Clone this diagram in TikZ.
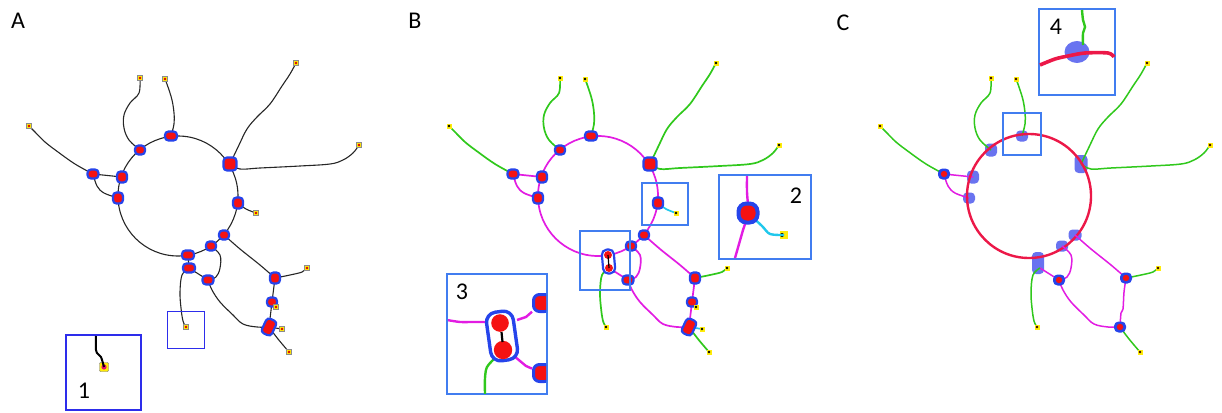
\documentclass[tikz,border=0pt]{standalone}
\usepackage{fontspec}
\setmainfont{Carlito}
\usetikzlibrary{shapes.geometric}
\definecolor{nblue}{RGB}{38,68,235}
\definecolor{nred}{RGB}{245,18,18}
\definecolor{mag}{RGB}{226,28,226}
\definecolor{grn}{RGB}{48,200,28}
\definecolor{cyn}{RGB}{32,200,236}
\definecolor{crim}{RGB}{236,24,72}
\definecolor{boxA}{RGB}{45,45,235}
\definecolor{boxB}{RGB}{65,125,240}
\definecolor{cblob}{RGB}{105,115,240}
\definecolor{endy}{RGB}{255,236,10}
\definecolor{pinkred}{RGB}{232,20,110}
\tikzset{
 lbl/.style={font=\fontsize{24}{28}\selectfont, inner sep=0pt},
 blob/.style={rectangle, rounded corners=3.5pt, draw=nblue, fill=nred, line width=2.2pt,
   minimum width=10pt, minimum height=9pt, inner sep=0pt},
 endpt/.style={rectangle, fill=endy, minimum size=5pt, inner sep=0pt,
   path picture={\fill[#1] (path picture bounding box.center) circle[radius=1.3pt];}},
 endpt/.default=black,
 edgeA/.style={draw=black!85, line width=1.1pt},
 edgeG/.style={draw=grn, line width=1.7pt},
 edgeM/.style={draw=mag, line width=1.7pt},
 edgeC/.style={draw=cyn, line width=1.7pt},
 cbl/.style={rectangle, rounded corners=4pt, fill=cblob, minimum width=12pt, minimum height=11pt, inner sep=0pt},
 coff/.style={rectangle, rounded corners=4.5pt, fill=nblue, minimum width=12pt, minimum height=11pt, inner sep=0pt,
   path picture={\fill[nred] (path picture bounding box.center) circle[radius=3.2pt];}},
 insetA/.style={draw=boxA, line width=1.8pt},
 insetB/.style={draw=boxB, line width=1.8pt},
 smallA/.style={draw=boxA, line width=1pt},
 smallB/.style={draw=boxB, line width=1.3pt},
}
\newcommand\graphpts{%
\coordinate (ctr) at (178,196);
\coordinate (n1) at (171,136);
\coordinate (n2) at (140,150);
\coordinate (n3) at (122,177);
\coordinate (n4) at (93,174);
\coordinate (n5) at (118,198);
\coordinate (n6) at (230,164);
\coordinate (n7) at (238,203);
\coordinate (n8) at (224,235);
\coordinate (n9) at (211,246);
\coordinate (n10) at (188,255);
\coordinate (n11) at (189,268);
\coordinate (n12) at (208,280);
\coordinate (n13) at (275,278);
\coordinate (n14) at (272,302);
\coordinate (n15) at (269,327);
\coordinate (e1) at (140,78);
\coordinate (e2) at (165,79);
\coordinate (e3) at (296,63);
\coordinate (e4) at (29,126);
\coordinate (e5) at (359,145);
\coordinate (e6) at (256,213);
\coordinate (e7) at (307,268);
\coordinate (e8) at (276,307);
\coordinate (e9) at (282,329);
\coordinate (e10) at (289,352);
\coordinate (e11) at (186,327);
}
\newcommand\sharededges{%
\draw[termE] plot[smooth,tension=.6] coordinates {(e1) (139,93) (130,103) (124,115) (124,128) (129,140) (n2)};
\draw[termE] plot[smooth,tension=.6] coordinates {(e2) (168,87) (172,100) (174,113) (174,124) (n1)};
\draw[termE] plot[smooth,tension=.6] coordinates {(e3) (290,74) (282,86) (270,104) (257,117) (247,129) (239,145) (n6)};
\draw[termE] plot[smooth,tension=.6] coordinates {(e5) (353,153) (343,160) (330,164) (300,166) (260,168) (240,169) (n6)};
\draw[termE] plot[smooth,tension=.6] coordinates {(e4) (35,132) (45,142) (58,152) (75,164) (n4)};
\draw[intE] (n4) -- (n3);
\draw[intE] plot[smooth,tension=.6] coordinates {(n4) (97,186) (104,193) (n5)};
\draw[cycE] (ctr) circle[radius=\cycr];
\draw[intE] plot[smooth,tension=.5] coordinates {(n8) (240,249) (260,265) (n13)};
\draw[intE] plot[smooth,tension=.6] coordinates {(n9) (220,255) (220,268) (216,277) (n12)};
\draw[intE] (n11) -- (n12);
\draw[termE] plot[smooth,tension=.6] coordinates {(n11) (182,275) (180,292) (181,308) (183,321) (e11)};
\draw[intE] plot[smooth,tension=.6] coordinates {(n12) (212,290) (220,302) (233,315) (243,324) (257,327) (n15)};
\draw[termE] plot[smooth,tension=.6] coordinates {(n13) (290,275) (302,272) (e7)};
\draw[termE] plot[smooth,tension=.6] coordinates {(n15) (278,339) (e10)};
}
\newcommand\cycr{60pt}
\begin{document}
\begin{tikzpicture}[x=1pt,y=-1pt]
\useasboundingbox (0,0) rectangle (1222,412);

% ---------------- Panel A ----------------
\node[lbl] (labA) at (18,21) {A};
\begin{scope}[name prefix=A-, termE/.style={edgeA}, intE/.style={edgeA}, cycE/.style={edgeA}]
\graphpts
\sharededges
\draw[edgeA] plot[smooth,tension=.6] coordinates {(n7) (246,209) (e6)};
\draw[edgeA] (n13) -- (n14) -- (n15);
\draw[edgeA] (n14) -- (e8);
\draw[edgeA] (n15) -- (e9);
\draw[edgeA] (n10) -- (n11);
\node[blob, minimum width=12pt] (b1) at (n1) {};
\node[blob] (b2) at (n2) {};
\node[blob, minimum height=11pt] (b3) at (n3) {};
\node[blob, minimum width=11pt] (b4) at (n4) {};
\node[blob, minimum height=11pt] (b5) at (n5) {};
\node[blob, minimum width=13pt, minimum height=13pt] (b6) at (n6) {};
\node[blob, minimum height=11pt] (b7) at (n7) {};
\node[blob] (b8) at (n8) {};
\node[blob] (b9) at (n9) {};
\node[blob, minimum width=12pt] (b10) at (n10) {};
\node[blob, minimum width=12pt] (b11) at (n11) {};
\node[blob, minimum width=11pt] (b12) at (n12) {};
\node[blob, minimum height=11pt] (b13) at (n13) {};
\node[blob] (b14) at (n14) {};
\node[blob, minimum width=11pt, minimum height=16pt, rotate=-25] (b15) at (n15) {};
\foreach \e in {1,...,11} {\node[endpt=red!85!black, draw=black!45, line width=0.3pt] (t\e) at (e\e) {};}
\end{scope}
\draw[smallA] (167,311) rectangle (204,348);
% inset 1
\draw[insetA] (66,335) rectangle (141,410);
\coordinate (i1top) at (96,336);
\node[rectangle, rounded corners=1pt, fill=endy, draw=black!55, line width=0.4pt, minimum size=9pt, inner sep=0pt,
  path picture={\fill[pinkred] (path picture bounding box.center) circle[radius=2.6pt];}] (i1end) at (104,367) {};
\draw[black, line width=2pt] plot[smooth,tension=.6] coordinates {(i1top) (96,350) (98,354) (101,357) (i1end)};
\node[lbl] (lab1) at (84,391) {1};

% ---------------- Panel B ----------------
\node[lbl] (labB) at (415,21) {B};
\begin{scope}[shift={(420,0)}, name prefix=B-, termE/.style={edgeG}, intE/.style={edgeM}, cycE/.style={edgeM}]
\graphpts
\sharededges
\draw[edgeC] plot[smooth,tension=.6] coordinates {(n7) (246,209) (e6)};
\draw[edgeM] (n13) -- (n14) -- (n15);
\draw[edgeC] (n14) -- (e8);
\draw[edgeC] (n15) -- (e9);
\node[blob, minimum width=12pt] (b1) at (n1) {};
\node[blob] (b2) at (n2) {};
\node[blob, minimum height=11pt] (b3) at (n3) {};
\node[blob, minimum width=11pt] (b4) at (n4) {};
\node[blob, minimum height=11pt] (b5) at (n5) {};
\node[blob, minimum width=13pt, minimum height=13pt] (b6) at (n6) {};
\node[blob, minimum height=11pt] (b7) at (n7) {};
\node[blob] (b8) at (n8) {};
\node[blob] (b9) at (n9) {};
\coordinate (n1011) at (188.5,261.5);
\node[rectangle, rounded corners=5pt, draw=nblue, fill=white, line width=2.2pt, minimum width=12pt, minimum height=24pt, inner sep=0pt, rotate=5] (b1011) at (n1011) {};
\fill[nred] (n10) circle[radius=4pt];
\fill[nred] (n11) circle[radius=4pt];
\draw[black, line width=1.2pt] (n10) -- (n11);
\node[blob, minimum width=11pt] (b12) at (n12) {};
\node[blob, minimum height=11pt] (b13) at (n13) {};
\node[blob] (b14) at (n14) {};
\node[blob, minimum width=11pt, minimum height=16pt, rotate=-25] (b15) at (n15) {};
\foreach \e in {1,...,11} {\node[endpt=black] (t\e) at (e\e) {};}
\end{scope}
\draw[smallB] (642,183) rectangle (688,225);
\draw[smallB] (580,231) rectangle (630,290);
% inset 2
\draw[insetB] (719,175) rectangle (811,259);
\coordinate (i2top) at (747,176);
\coordinate (i2bot) at (735,258);
\coordinate (i2n) at (748,213);
\node[rectangle, fill=endy, minimum size=8pt, inner sep=0pt,
  path picture={\fill[black] ([xshift=-2pt]path picture bounding box.center) circle[radius=2pt];}] (i2end) at (784,235) {};
\draw[edgeM, line width=2.4pt] plot[smooth,tension=.6] coordinates {(i2top) (747,192) (i2n) (743,230) (739,244) (i2bot)};
\draw[edgeC, line width=2.4pt] plot[smooth,tension=.5] coordinates {(i2n) (762,226) (770,234) (i2end)};
\node[rectangle, rounded corners=8pt, draw=nblue, fill=nred, line width=4pt, minimum size=19pt, inner sep=0pt] (i2b) at (i2n) {};
\node[lbl] (lab2) at (796,196) {2};
% inset 3
\draw[insetB] (447,274) rectangle (547,394);
\begin{scope}
\clip (448,275) rectangle (546,393);
\coordinate (i3l) at (447,320);
\coordinate (i3g) at (485,394);
\coordinate (i3c) at (502,336);
\node[rectangle, rounded corners=6pt, draw=nblue, fill=nred, line width=3pt, minimum size=17pt, inner sep=0pt] (i3r1) at (542,303) {};
\node[rectangle, rounded corners=6pt, draw=nblue, fill=nred, line width=3pt, minimum size=17pt, inner sep=0pt] (i3r2) at (542,373) {};
\draw[edgeM, line width=2.4pt] plot[smooth,tension=.5] coordinates {(i3l) (460,322) (470,322) (487,322)};
\draw[edgeM, line width=2.4pt] (517,320) -- (526,317) -- (i3r1);
\draw[edgeM, line width=2.4pt] (514,356) -- (526,366) -- (i3r2);
\draw[edgeG, line width=2.4pt] plot[smooth,tension=.5] coordinates {(495,358) (487,367) (485,378) (i3g)};
\node[rectangle, rounded corners=10pt, draw=nblue, fill=white, line width=3.4pt, minimum width=27pt, minimum height=49pt, inner sep=0pt, rotate=8] (i3b) at (i3c) {};
\fill[nred] (500,323) circle[radius=8.8pt];
\fill[nred] (503,350) circle[radius=9.2pt];
\draw[black, line width=2.2pt] (501.5,332) -- (502.5,342);
\end{scope}
\node[lbl] (lab3) at (462,292) {3};

% ---------------- Panel C ----------------
\node[lbl] (labC) at (843,23) {C};
\begin{scope}[shift={(851,0)}, name prefix=C-, termE/.style={draw=grn, line width=1.5pt}, intE/.style={draw=mag, line width=1.5pt}, cycE/.style={draw=crim, line width=2.4pt}]
\renewcommand\cycr{62pt}
\graphpts
\node[cbl] (b1) at (n1) {};
\node[cbl, minimum height=13pt] (b2) at (n2) {};
\node[cbl, minimum height=13pt] (b3) at (n3) {};
\node[cbl] (b5) at (n5) {};
\node[cbl, minimum width=13pt, minimum height=18pt] (b6) at (n6) {};
\node[cbl, minimum width=13pt] (b8) at (n8) {};
\node[cbl] (b9) at (n9) {};
\coordinate (n1011) at (187,263);
\node[cbl, minimum width=12pt, minimum height=22pt] (b1011) at (n1011) {};
\sharededges
\draw[draw=mag, line width=1.5pt] plot[smooth,tension=.5] coordinates {(n13) (273,292) (272,309) (270,313) (n15)};
\node[coff] (b4) at (n4) {};
\node[coff] (b12) at (n12) {};
\node[coff] (b13) at (n13) {};
\node[coff] (b15) at (n15) {};
\foreach \e in {1,2,3,4,5,7,10,11} {\node[endpt=black!80!red] (t\e) at (e\e) {};}
\end{scope}
\draw[smallB] (1003,113) rectangle (1041,155);
% inset 4
\draw[insetB] (1039,9) rectangle (1115,95);
\coordinate (i4top) at (1082,10);
\coordinate (i4c) at (1077,52);
\coordinate (i4l) at (1040,65);
\coordinate (i4r) at (1114,57);
\node[ellipse, fill=cblob, minimum width=25pt, minimum height=22pt, inner sep=0pt] (i4b) at (i4c) {};
\draw[draw=grn, line width=2.4pt] plot[smooth,tension=.5] coordinates {(i4top) (1083,20) (1085,27) (1083,33) (1083,45)};
\draw[draw=crim, line width=3.6pt] plot[smooth,tension=.5] coordinates {(i4l) (1055,59) (1068,56) (1085,53) (1108,53) (i4r)};
\node[lbl] (lab4) at (1056,27) {4};
\end{tikzpicture}
\end{document}
